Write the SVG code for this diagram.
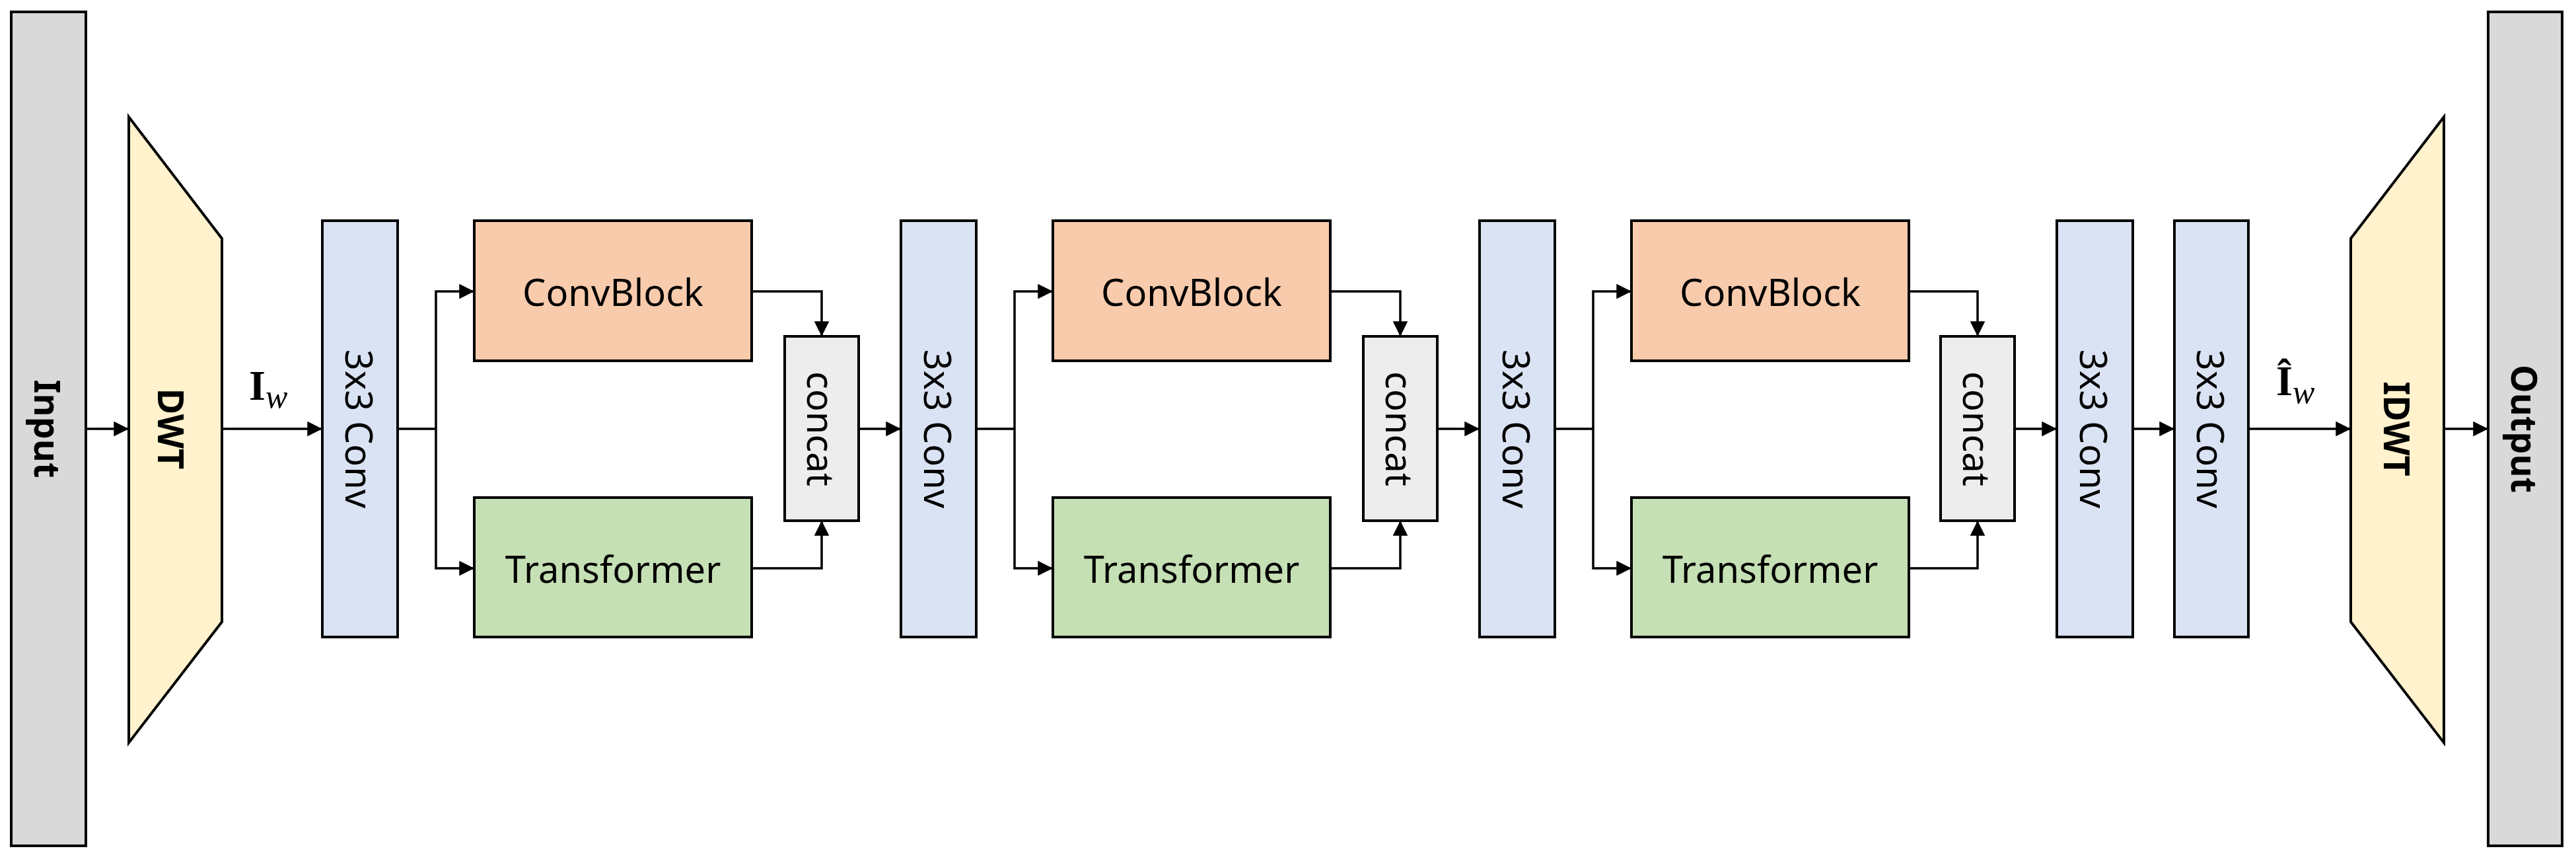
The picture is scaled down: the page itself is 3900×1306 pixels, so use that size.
<svg xmlns="http://www.w3.org/2000/svg" width="3900" height="1306" viewBox="0 0 3900 1306">
<style>
.b{stroke:#000;stroke-width:4}
.t{font-family:"Noto Sans","Open Sans",sans-serif;font-size:56px;fill:#000;text-anchor:middle;dominant-baseline:central}
.bd{font-weight:bold;font-size:54px}
.c{fill:none;stroke:#000;stroke-width:3.5}
.conv{fill:#dae3f3}.cb{fill:#f8cbad}.tr{fill:#c5e0b4}.cc{fill:#ededed}.io{fill:#d9d9d9}.dw{fill:#fff2cc}
.m{font-family:"Liberation Serif",serif;font-size:64px}
</style>
<defs><marker id="a" viewBox="0 0 10 10" refX="10" refY="5" markerWidth="6.5" markerHeight="6.5" orient="auto" markerUnits="strokeWidth"><path d="M0,0L10,5L0,10z" fill="#000"/></marker></defs>
<rect width="3900" height="1306" fill="#fff"/>
<g id="input"><rect class="b io" x="17" y="18" width="113" height="1262"/><text class="t bd" transform="translate(73,649) rotate(90)">Input</text></g>
<g id="dwt"><polygon class="b dw" points="195,177 336,361 336,941 195,1124"/><text class="t bd" transform="translate(260,649) rotate(90)">DWT</text></g>
<g id="iw"><text class="m" x="377" y="605"><tspan font-weight="bold">I</tspan><tspan font-style="italic" font-size="50" dy="12">w</tspan></text></g>
<g id="conv1"><rect class="b conv" x="488" y="334" width="114" height="630"/><text class="t" transform="translate(545,649) rotate(90)">3x3 Conv</text></g>
<g id="cb1"><rect class="b cb" x="718" y="334" width="420" height="212"/><text class="t" x="928" y="441">ConvBlock</text></g>
<g id="tr1"><rect class="b tr" x="718" y="753" width="420" height="211"/><text class="t" x="928" y="860">Transformer</text></g>
<g id="cat1"><rect class="b cc" x="1188" y="509" width="112" height="279"/><text class="t" transform="translate(1244,649) rotate(90)">concat</text></g>
<g id="conv2"><rect class="b conv" x="1364" y="334" width="114" height="630"/><text class="t" transform="translate(1421,649) rotate(90)">3x3 Conv</text></g>
<g id="cb2"><rect class="b cb" x="1594" y="334" width="420" height="212"/><text class="t" x="1804" y="441">ConvBlock</text></g>
<g id="tr2"><rect class="b tr" x="1594" y="753" width="420" height="211"/><text class="t" x="1804" y="860">Transformer</text></g>
<g id="cat2"><rect class="b cc" x="2064" y="509" width="112" height="279"/><text class="t" transform="translate(2120,649) rotate(90)">concat</text></g>
<g id="conv3"><rect class="b conv" x="2240" y="334" width="114" height="630"/><text class="t" transform="translate(2297,649) rotate(90)">3x3 Conv</text></g>
<g id="cb3"><rect class="b cb" x="2470" y="334" width="420" height="212"/><text class="t" x="2680" y="441">ConvBlock</text></g>
<g id="tr3"><rect class="b tr" x="2470" y="753" width="420" height="211"/><text class="t" x="2680" y="860">Transformer</text></g>
<g id="cat3"><rect class="b cc" x="2938" y="509" width="112" height="279"/><text class="t" transform="translate(2994,649) rotate(90)">concat</text></g>
<g id="conv4"><rect class="b conv" x="3114" y="334" width="115" height="630"/><text class="t" transform="translate(3171,649) rotate(90)">3x3 Conv</text></g>
<g id="conv5"><rect class="b conv" x="3292" y="334" width="112" height="630"/><text class="t" transform="translate(3348,649) rotate(90)">3x3 Conv</text></g>
<g id="iwhat"><text class="m" x="3446" y="598"><tspan font-weight="bold">Î</tspan><tspan font-style="italic" font-size="50" dy="12">w</tspan></text></g>
<g id="idwt"><polygon class="b dw" points="3559,361 3700,177 3700,1124 3559,941"/><text class="t bd" transform="translate(3630,649) rotate(90)">IDWT</text></g>
<g id="output"><rect class="b io" x="3767" y="18" width="112" height="1262"/><text class="t bd" transform="translate(3823,649) rotate(90)">Output</text></g>
<g id="connectors">
<path class="c" d="M130,649H195" marker-end="url(#a)"/>
<path class="c" d="M336,649H488" marker-end="url(#a)"/>
<path class="c" d="M602,649H660"/>
<path class="c" d="M660,649V441H718" marker-end="url(#a)"/>
<path class="c" d="M660,649V860H718" marker-end="url(#a)"/>
<path class="c" d="M1138,441H1244V509" marker-end="url(#a)"/>
<path class="c" d="M1138,860H1244V788" marker-end="url(#a)"/>
<path class="c" d="M1300,649H1364" marker-end="url(#a)"/>
<path class="c" d="M1478,649H1536"/>
<path class="c" d="M1536,649V441H1594" marker-end="url(#a)"/>
<path class="c" d="M1536,649V860H1594" marker-end="url(#a)"/>
<path class="c" d="M2014,441H2120V509" marker-end="url(#a)"/>
<path class="c" d="M2014,860H2120V788" marker-end="url(#a)"/>
<path class="c" d="M2176,649H2240" marker-end="url(#a)"/>
<path class="c" d="M2354,649H2412"/>
<path class="c" d="M2412,649V441H2470" marker-end="url(#a)"/>
<path class="c" d="M2412,649V860H2470" marker-end="url(#a)"/>
<path class="c" d="M2890,441H2994V509" marker-end="url(#a)"/>
<path class="c" d="M2890,860H2994V788" marker-end="url(#a)"/>
<path class="c" d="M3050,649H3114" marker-end="url(#a)"/>
<path class="c" d="M3229,649H3292" marker-end="url(#a)"/>
<path class="c" d="M3404,649H3559" marker-end="url(#a)"/>
<path class="c" d="M3700,649H3767" marker-end="url(#a)"/>
</g>
</svg>
